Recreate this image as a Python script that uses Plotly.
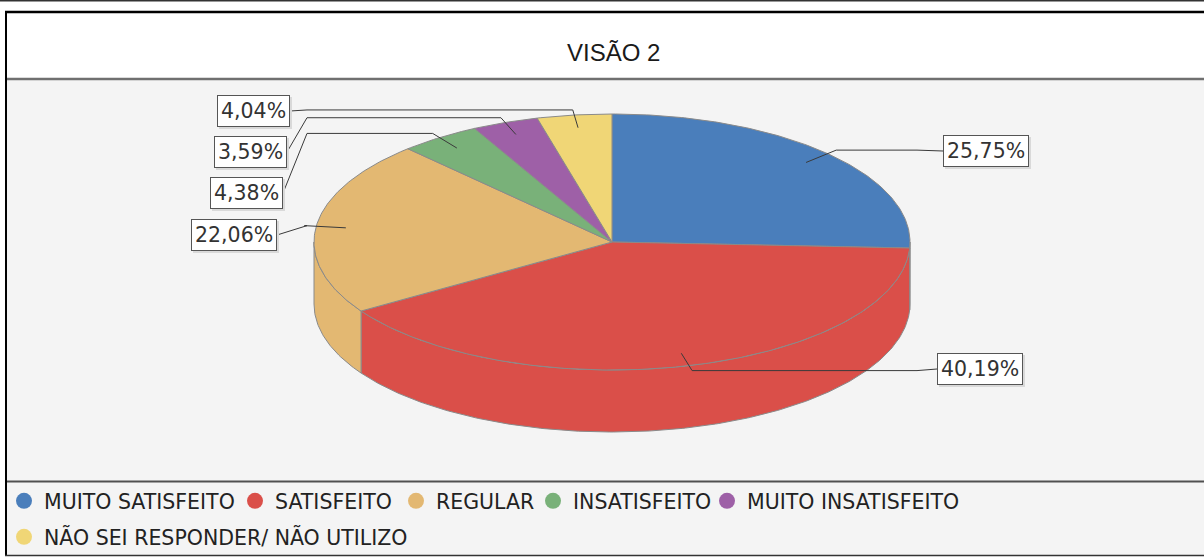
import numpy as np
import plotly.graph_objects as go

# ---------------- data ----------------
categories = ["MUITO SATISFEITO", "SATISFEITO", "REGULAR", "INSATISFEITO",
              "MUITO INSATISFEITO", "NÃO SEI RESPONDER/ NÃO UTILIZO"]
values = [25.75, 40.19, 22.06, 4.38, 3.59, 4.04]
value_labels = ["25,75%", "40,19%", "22,06%", "4,38%", "3,59%", "4,04%"]
colors = ["#4A7EBB", "#DA4F49", "#E3B872", "#79B179", "#9E60A7", "#F0D676"]
title_text = "VISÃO 2"

# ---------------- layout / geometry (pixel space) ----------------
W, H = 1204, 557
CX, CY, RX, RY, DEPTH = 612, 242, 298, 128, 62
EDGE = "#8a8a8a"
LINK = "#3a3a3a"
# label box anchor (edge x, centre y) and side
label_box = [(943, 151, "r"), (937, 369, "r"), (277, 235, "l"),
             (283, 193, "l"), (287, 152, "l"), (290, 111, "l")]
LINK_X_LEFT, LINK_X_RIGHT = 307, 917
FONT = "DejaVu Sans"
# legend entry placement (left px, row)
legend_pos = [(4, 0), (235, 0), (396, 0), (533, 0), (707, 0), (4, 1)]


def ept(a_deg, f=1.0, dy=0.0):
    a = np.radians(a_deg)
    return CX + f * RX * np.cos(a), CY - f * RY * np.sin(a) + dy


def arc(a0, a1, n=None, f=1.0, dy=0.0):
    if n is None:
        n = max(8, int(abs(a1 - a0) * 1.5))
    t = np.linspace(a0, a1, n)
    xs, ys = ept(t, f, dy)
    return list(xs), list(ys)


total = sum(values)
cum = np.concatenate([[0], np.cumsum(values)]) / total
starts = 90 - 360 * cum[:-1]
ends = 90 - 360 * cum[1:]

fig = go.Figure()

# walls (front, lower half of ellipse)
for i, (a0, a1) in enumerate(zip(starts, ends)):
    lo, hi = a1, a0
    for k in range(-2, 3):
        s = max(lo, -180 - 360 * k)
        e = min(hi, 0 - 360 * k)
        if e - s > 1e-6:
            tx, ty = arc(e, s)
            bx, by = arc(s, e, dy=DEPTH)
            fig.add_trace(go.Scatter(
                x=tx + bx + [tx[0]], y=ty + by + [ty[0]], mode="lines",
                fill="toself", fillcolor=colors[i],
                line=dict(color=EDGE, width=1), hoverinfo="skip",
                showlegend=False))

# top faces
for i, (a0, a1) in enumerate(zip(starts, ends)):
    ax, ay = arc(a0, a1)
    fig.add_trace(go.Scatter(
        x=[CX] + ax + [CX], y=[CY] + ay + [CY], mode="lines",
        fill="toself", fillcolor=colors[i],
        line=dict(color=EDGE, width=1), hoverinfo="skip", showlegend=False))

# label links
annotations = []
for i, (a0, a1) in enumerate(zip(starts, ends)):
    mid = (a0 + a1) / 2
    p1 = ept(mid, 0.9)
    p2 = ept(mid, 1.04)
    bx_, by_, side = label_box[i]
    lx = LINK_X_RIGHT if side == "r" else LINK_X_LEFT
    xs = [p1[0], p2[0], lx, bx_]
    ys = [p1[1], p2[1], p2[1], by_]
    fig.add_trace(go.Scatter(x=xs, y=ys, mode="lines",
                             line=dict(color=LINK, width=1),
                             hoverinfo="skip", showlegend=False))
    xanchor = "left" if side == "r" else "right"
    # shadow
    annotations.append(dict(x=bx_, y=by_, xref="x", yref="y", text=value_labels[i],
                            showarrow=False, xanchor=xanchor, yanchor="middle",
                            xshift=2, yshift=-2,
                            font=dict(family=FONT, size=20.5, color="#d9d9d9"),
                            bgcolor="#d9d9d9", bordercolor="#d9d9d9",
                            borderwidth=1, borderpad=3))
    annotations.append(dict(x=bx_, y=by_, xref="x", yref="y", text=value_labels[i],
                            showarrow=False, xanchor=xanchor, yanchor="middle",
                            font=dict(family=FONT, size=20.5, color="#333333"),
                            bgcolor="#ffffff", bordercolor="#555555",
                            borderwidth=1, borderpad=3))

# legend entries (one legend per entry for exact placement)
legend_layouts = {}
for i, c in enumerate(categories):
    key = "legend" if i == 0 else f"legend{i + 1}"
    fig.add_trace(go.Scatter(
        x=[None], y=[None], mode="markers", name=c,
        marker=dict(size=18, color=colors[i], symbol="circle",
                    line=dict(width=0)),
        legend=key))
    lx_px, row = legend_pos[i]
    if row == 0:
        ypos, yanchor = 1 - 481 / H, "top"
    else:
        ypos, yanchor = 0.0, "bottom"
    legend_layouts[key] = dict(
        orientation="h", x=lx_px / W, y=ypos, xanchor="left", yanchor=yanchor,
        bgcolor="rgba(0,0,0,0)",
        font=dict(family=FONT, size=20.5, color="#222222"),
        itemclick=False, itemdoubleclick=False)

annotations.append(dict(x=613, y=52, xref="x", yref="y", text=title_text,
                        showarrow=False, xanchor="center", yanchor="middle",
                        font=dict(family="Liberation Sans", size=24, color="#1a1a1a")))

shapes = [
    dict(type="rect", x0=6, x1=W, y0=80, y1=555, xref="x", yref="y",
         fillcolor="#f4f4f4", line=dict(width=0), layer="below"),
    dict(type="line", x0=0, x1=W, y0=0.7, y1=0.7, xref="x", yref="y",
         line=dict(color="#333333", width=1.5)),
    dict(type="line", x0=5, x1=W, y0=12, y1=12, xref="x", yref="y",
         line=dict(color="#000000", width=2.5)),
    dict(type="line", x0=6, x1=W, y0=79, y1=79, xref="x", yref="y",
         line=dict(color="#707070", width=2.5)),
    dict(type="line", x0=6, x1=W, y0=481.5, y1=481.5, xref="x", yref="y",
         line=dict(color="#505050", width=2)),
    dict(type="line", x0=6, x1=6, y0=11, y1=556, xref="x", yref="y",
         line=dict(color="#000000", width=2)),
    dict(type="line", x0=5, x1=W, y0=555.5, y1=555.5, xref="x", yref="y",
         line=dict(color="#333333", width=1.5)),
]

fig.update_layout(
    width=W, height=H, autosize=False,
    margin=dict(l=0, r=0, t=0, b=0, pad=0),
    paper_bgcolor="#ffffff", plot_bgcolor="rgba(0,0,0,0)",
    xaxis=dict(range=[0, W], visible=False, fixedrange=True),
    yaxis=dict(range=[H, 0], visible=False, fixedrange=True),
    showlegend=True,
    annotations=annotations,
    shapes=shapes,
    **legend_layouts,
)

fig.write_html("out.html", config={"displayModeBar": False},
               post_script="document.body.style.margin='0';document.body.style.overflow='hidden';")
